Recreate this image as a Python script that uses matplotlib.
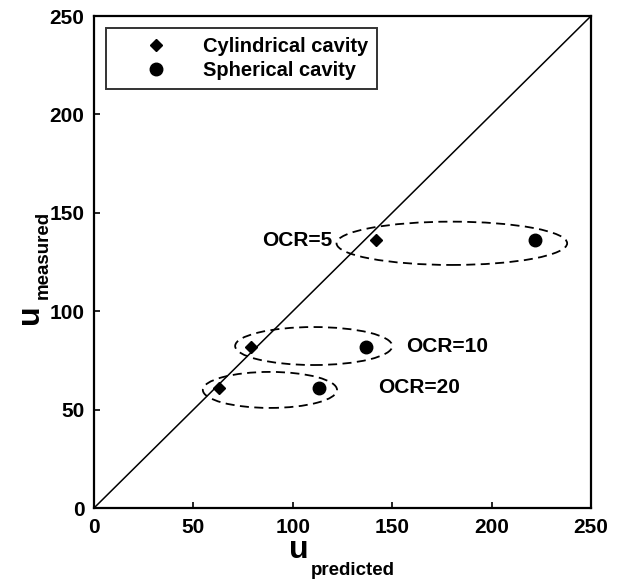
import matplotlib
matplotlib.use("Agg")
import matplotlib.pyplot as plt
from matplotlib.patches import Ellipse
from matplotlib.lines import Line2D

plt.rcParams['font.family'] = ['Liberation Sans', 'DejaVu Sans']

# Data
cyl_pred = [142, 79, 63]
sph_pred = [222, 137, 113]
measured = [136, 82, 61]
ocr_labels = ["OCR=5", "OCR=10", "OCR=20"]
# grouping ellipses: centre x, centre y, width, height (data units)
ell_cx = [180, 110.5, 88.5]
ell_cy = [134.5, 82.3, 60]
ell_w = [116, 79, 67.5]
ell_h = [22, 19.3, 18.3]
# label anchor positions and alignment
lab_x = [120, 157, 143]
lab_y = [136, 82, 61]
lab_ha = ["right", "left", "left"]
ticks = [0, 50, 100, 150, 200, 250]

W, H = 622, 582
fig = plt.figure(figsize=(W / 100, H / 100), dpi=100)
ax = fig.add_axes([94 / W, 1 - 508 / H, 497 / W, 492 / H])

ax.plot([0, 250], [0, 250], color='black', lw=1.1, zorder=2)
ax.plot(cyl_pred, measured, linestyle='none', marker='D', ms=6.5,
        color='black', zorder=4)
ax.plot(sph_pred, measured, linestyle='none', marker='o', ms=9,
        color='black', zorder=4)

for cx, cy, w, h in zip(ell_cx, ell_cy, ell_w, ell_h):
    e = Ellipse((cx, cy), w, h, fill=False, edgecolor='black', lw=1.3,
                linestyle=(0, (5, 3)), zorder=3)
    ax.add_patch(e)

for t, x, y, ha in zip(ocr_labels, lab_x, lab_y, lab_ha):
    ax.text(x, y, t, ha=ha, va='center', fontsize=15, fontweight='bold')

ax.set_xlim(0, 250)
ax.set_ylim(0, 250)
ax.set_xticks(ticks)
ax.set_yticks(ticks)
ax.tick_params(direction='in', length=4, width=1.2, labelsize=15,
               top=False, right=False, pad=7)
for lab in ax.get_xticklabels() + ax.get_yticklabels():
    lab.set_fontweight('bold')
for sp in ax.spines.values():
    sp.set_linewidth(1.6)


def ftext(x, y, s, size, rot=0):
    """Place bold text with its (left, baseline) anchor at pixel (x, y)."""
    fig.text(x / W, 1 - y / H, s, fontsize=size, fontweight='bold',
             ha='left', va='baseline', rotation=rot, rotation_mode='anchor')


# axis titles: large "u" with a smaller subscript
ftext(289, 558, "u", 23)
ftext(311, 575, "predicted", 13.5)
ftext(38, 324, "u", 23, rot=90)
ftext(48, 299, "measured", 13.5, rot=90)

handles = [
    Line2D([], [], linestyle='none', marker='D', ms=6, color='black'),
    Line2D([], [], linestyle='none', marker='o', ms=9, color='black'),
]
leg = ax.legend(handles, ["Cylindrical cavity", "Spherical cavity"],
                loc='upper left', bbox_to_anchor=(0.024, 0.975),
                frameon=True, fancybox=False, edgecolor='black',
                prop={'weight': 'bold', 'size': 14.5},
                handletextpad=0.25, borderpad=0.45, labelspacing=0.22,
                handlelength=4.1, borderaxespad=0)
leg.get_frame().set_linewidth(1.4)

fig.savefig("out.png", dpi=100)
